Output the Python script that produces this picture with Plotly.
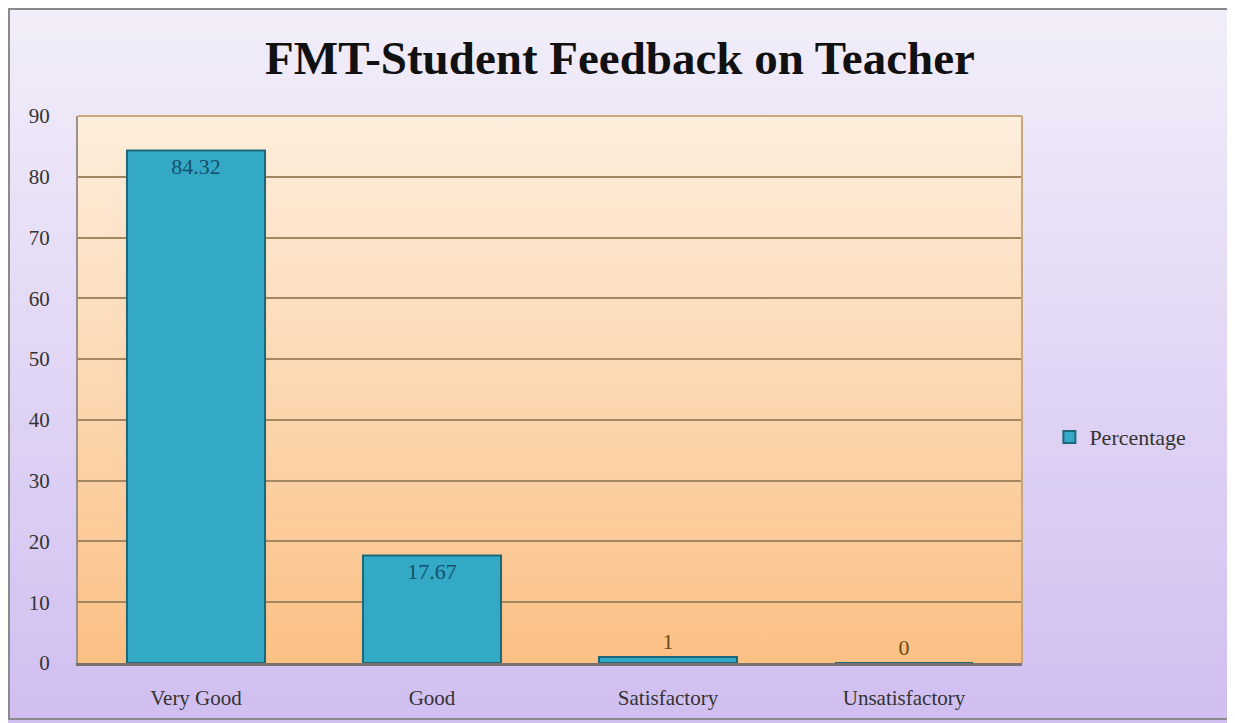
import plotly.graph_objects as go
import urllib.parse

categories = ["Very Good", "Good", "Satisfactory", "Unsatisfactory"]
values = [84.32, 17.67, 1, 0]
value_labels = ["84.32", "17.67", "1", "0"]
y_ticks = [0, 10, 20, 30, 40, 50, 60, 70, 80, 90]
title_text = "FMT-Student Feedback on Teacher"
series_name = "Percentage"

# page has an 8px body margin; size the figure so it fills the window
W, H = 1227, 715
L, R, T, B = 70, 213, 108, 60
pw, ph = W - L - R, H - T - B


def svg_grad(c1, c2):
    svg = ("<svg xmlns='http://www.w3.org/2000/svg' width='100' height='100' preserveAspectRatio='none'>"
           "<defs><linearGradient id='g' x1='0' y1='0' x2='0' y2='1'>"
           f"<stop offset='0' stop-color='{c1}'/><stop offset='1' stop-color='{c2}'/>"
           "</linearGradient></defs><rect width='100' height='100' fill='url(#g)'/></svg>")
    return "data:image/svg+xml;charset=utf-8," + urllib.parse.quote(svg)


textpos = ["inside" if v > 5 else "outside" for v in values]
textcolors = ["#17506a" if v > 5 else "#6b4a1a" for v in values]

fig = go.Figure()
fig.add_trace(go.Bar(
    x=categories, y=values, name=series_name,
    text=value_labels, textposition=textpos, insidetextanchor="end",
    textfont=dict(family="Liberation Serif", size=22, color=textcolors),
    outsidetextfont=dict(family="Liberation Serif", size=22, color="#6b4a1a"),
    marker=dict(color="#33a9c6", line=dict(color="#1d6878", width=2)),
    width=0.585, cliponaxis=False, showlegend=True,
))

fig.update_layout(
    width=W, height=H,
    margin=dict(l=L, r=R, t=T, b=B),
    paper_bgcolor="#e4d8f4",
    plot_bgcolor="rgba(0,0,0,0)",
    title=dict(text=f"<b>{title_text}</b>", x=612 / W, xanchor="center",
               y=1 - 50 / H, yanchor="middle",
               font=dict(family="Liberation Serif", size=47, color="#111111")),
    xaxis=dict(showline=True, linecolor="#7a7070", linewidth=3, ticks="",
               ticklabelstandoff=14,
               tickfont=dict(family="Liberation Serif", size=21, color="#333333"),
               showgrid=False, mirror=False),
    yaxis=dict(range=[0, 90], tickvals=y_ticks, showgrid=True, gridcolor="#a58663", gridwidth=2,
               showline=True, linecolor="#9a9090", linewidth=2, ticks="", zeroline=False,
               ticklabelstandoff=22,
               tickfont=dict(family="Liberation Serif", size=21, color="#333333")),
    legend=dict(x=1.029, xanchor="left", y=0.413, yanchor="middle",
                font=dict(family="Liberation Serif", size=22, color="#333333"),
                bgcolor="rgba(0,0,0,0)", itemwidth=30),
    images=[
        dict(source=svg_grad("#f2eef9", "#d0bef0"), xref="paper", yref="paper",
             x=-L / pw, y=1 + T / ph, sizex=W / pw, sizey=H / ph,
             xanchor="left", yanchor="top", sizing="stretch", layer="below"),
        dict(source=svg_grad("#fdeedd", "#fbc084"), xref="paper", yref="paper",
             x=0, y=1, sizex=1, sizey=1, xanchor="left", yanchor="top",
             sizing="stretch", layer="below"),
    ],
    shapes=[
        dict(type="rect", xref="paper", yref="paper", x0=(1 - L) / pw, x1=(1220 - L) / pw,
             y0=-(711 - T - ph) / ph, y1=1 + (T - 1) / ph,
             line=dict(color="#8a8a8a", width=2), fillcolor="rgba(0,0,0,0)", layer="above"),
        dict(type="line", xref="paper", yref="paper", x0=0, x1=1, y0=1, y1=1,
             line=dict(color="#c9a77e", width=2)),
        dict(type="line", xref="paper", yref="paper", x0=1, x1=1, y0=0, y1=1,
             line=dict(color="#c9a77e", width=2)),
    ],
)

fig.write_html("out.html")
